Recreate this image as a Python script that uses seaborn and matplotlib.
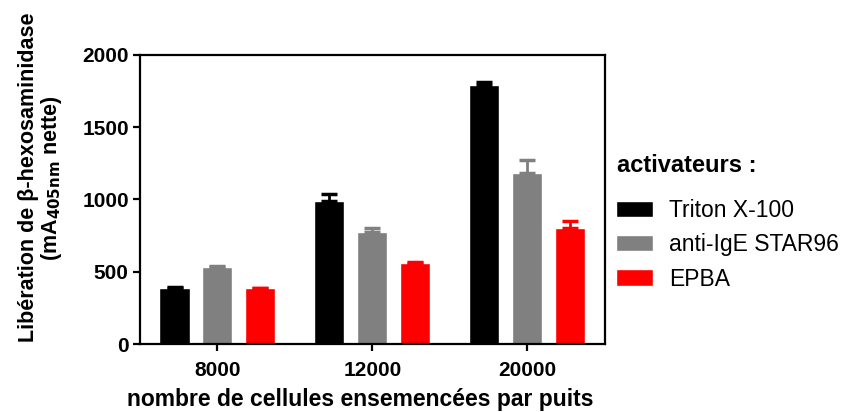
import pandas as pd
import numpy as np
import seaborn as sns
import matplotlib.pyplot as plt

cells = ['8000', '12000', '20000']
activators = ['Triton X-100', 'anti-IgE STAR96', 'EPBA']
triton = [388, 990, 1792]
antiige = [535, 777, 1181]
epba = [385, 560, 805]
triton_err = [8, 45, 20]
antiige_err = [5, 22, 92]
epba_err = [5, 5, 46]
colors = ['#000000', '#808080', '#ff0000']

df = pd.DataFrame({
    'cells': cells * 3,
    'act': [a for a in activators for _ in cells],
    'val': triton + antiige + epba,
})
errs = [triton_err, antiige_err, epba_err]

sns.set_style('ticks')
plt.rcParams['font.family'] = ['Liberation Sans', 'DejaVu Sans']
plt.rcParams['text.color'] = 'black'
plt.rcParams['axes.labelcolor'] = 'black'
plt.rcParams['xtick.color'] = 'black'
plt.rcParams['ytick.color'] = 'black'
plt.rcParams['axes.edgecolor'] = 'black'

fig = plt.figure(figsize=(8.53, 4.12), dpi=100)
ax = fig.add_axes([0.164, 0.165, 0.545, 0.702])

sns.barplot(data=df, x='cells', y='val', hue='act', hue_order=activators,
            order=cells, palette=colors, width=0.83, gap=0.3,
            saturation=1, ax=ax, legend=True)

for cont, err, col in zip(ax.containers, errs, colors):
    xs = [p.get_x() + p.get_width() / 2 for p in cont]
    ys = [p.get_height() for p in cont]
    ax.errorbar(xs, ys, yerr=[np.zeros(len(err)), err], fmt='none',
                ecolor=col, elinewidth=2, capsize=6, capthick=2.5, zorder=1)

ax.set_xlim(-0.5, 2.5)
ax.set_ylim(0, 2000)
ax.set_yticks([0, 500, 1000, 1500, 2000])
for s in ax.spines.values():
    s.set_linewidth(1.6)
ax.tick_params(axis='both', width=1.6, length=5, labelsize=15)
ax.tick_params(axis='x', pad=7)
ax.tick_params(axis='y', pad=3)
for lab in ax.get_xticklabels() + ax.get_yticklabels():
    lab.set_fontweight('bold')

ax.set_xlabel('nombre de cellules ensemencées par puits', fontsize=16.5,
              fontweight='bold', labelpad=6)
ax.xaxis.label.set_x(0.473)
ax.set_ylabel('Libération de β-hexosaminidase\n(mA$_{\\mathbf{405nm}}$ nette)',
              fontsize=15.5, fontweight='bold', labelpad=13, linespacing=1.0)
ax.yaxis.label.set_y(0.575)

# legend title as separate text so the gap above the entries matches
fig.text(0.7233, 0.5995, 'activateurs :', fontsize=17, fontweight='bold',
         ha='left', va='center')
handles, labels = ax.get_legend_handles_labels()
leg = ax.legend(handles, labels, loc='upper left',
                bbox_to_anchor=(0.698, 0.568), bbox_transform=fig.transFigure,
                frameon=False, fontsize=16.5, handlelength=1.6, handleheight=0.7,
                handletextpad=0.7, labelspacing=0.5)

fig.savefig('out.png', dpi=100)
